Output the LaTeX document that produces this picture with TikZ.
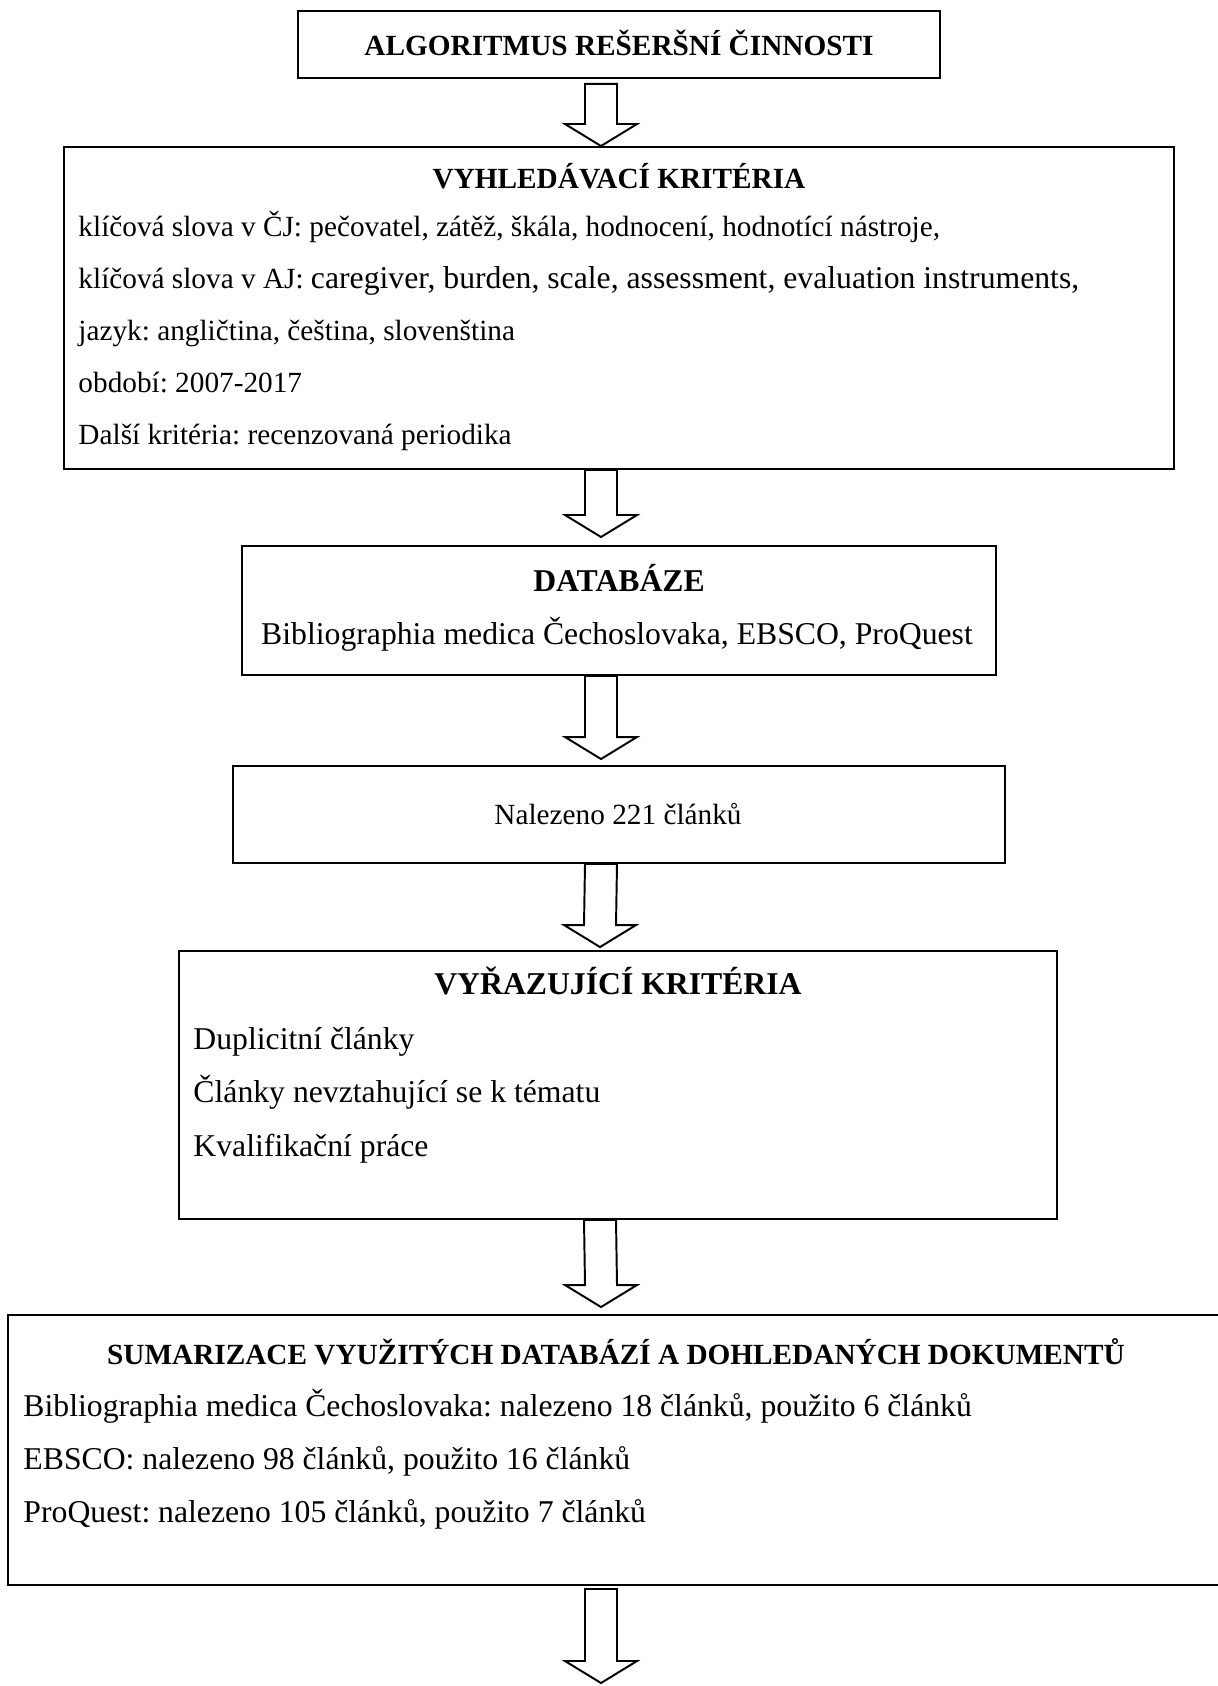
\documentclass[tikz,border=0pt]{standalone}
\usepackage{fontspec}
\setmainfont{Liberation Serif}
\usetikzlibrary{calc}
\frenchspacing

\newcommand{\px}{0.41pt}
% hollow block arrow: from, to, gap at top, gap at tip
\newcommand{\blockarrow}[4]{%
	\draw[blockarr] ($(#1)+(-34,#3)$) -- ($(#2)+(-34,-22-#4)$) -- ($(#2)+(-54,-22-#4)$) -- ($(#2)+(-18,-#4)$) -- ($(#2)+(18,-22-#4)$) -- ($(#2)+(-2,-22-#4)$) -- ($(#1)+(-2,#3)$) -- cycle;}

\begin{document}
\begin{tikzpicture}[x=\px,y=-\px,
	flowbox/.style={draw,line width=0.8pt,inner sep=0pt},
	blockarr/.style={draw,line width=0.8pt,fill=white,line join=miter},
	boxtitle/.style={inner sep=0pt,yshift=-1.3pt,text height=0.7em,text depth=0pt,font=\fontsize{12}{14}\selectfont\bfseries},
	entry/.style={anchor=west,inner sep=0pt,yshift=-1.3pt,text height=0.75em,text depth=0.25em,font=\fontsize{13}{15}\selectfont},
	]
	\useasboundingbox (0,0) rectangle (1217,1686);
	
	\node[flowbox,minimum width=642*\px,minimum height=67*\px] (title) at (619,44.5) {};
	\node[boxtitle] (titletext) at (619,44) {ALGORITMUS REŠERŠNÍ ČINNOSTI};
	
	\node[flowbox,minimum width=1110*\px,minimum height=322*\px] (crit) at (619,308) {};
	\node[boxtitle] (crittitle) at (619,177) {VYHLEDÁVACÍ KRITÉRIA};
	\node[entry,font=\fontsize{12}{14}\selectfont] (kwcz) at (78,227) {klíčová slova v ČJ: pečovatel, zátěž, škála, hodnocení, hodnotící nástroje,};
	\node[entry,font=\fontsize{12}{14}\selectfont] (kwen) at (78,279) {klíčová slova v AJ: {\fontsize{13}{15}\selectfont caregiver, burden, scale, assessment, evaluation instruments,}};
	\node[entry,font=\fontsize{12}{14}\selectfont] (lang) at (78,331) {jazyk: angličtina, čeština, slovenština};
	\node[entry,font=\fontsize{12}{14}\selectfont] (period) at (78,383) {období: 2007-2017};
	\node[entry,font=\fontsize{12}{14}\selectfont] (other) at (78,435) {Další kritéria: recenzovaná periodika};
	
	\node[flowbox,minimum width=754*\px,minimum height=129*\px] (db) at (619,610.5) {};
	\node[boxtitle,font=\fontsize{13}{15}\selectfont\bfseries] (dbtitle) at (619,580) {DATABÁZE};
	\node[entry,anchor=center] (dblist) at (617,635) {Bibliographia medica Čechoslovaka, EBSCO, ProQuest};
	
	\node[flowbox,minimum width=772*\px,minimum height=97*\px] (found) at (619,814.5) {};
	\node[entry,anchor=center,font=\fontsize{12}{14}\selectfont] (foundtext) at (618,815) {Nalezeno 221 článků};
	
	\node[flowbox,minimum width=878*\px,minimum height=268*\px] (excl) at (618,1085) {};
	\node[boxtitle,font=\fontsize{13}{15}\selectfont\bfseries] (excltitle) at (618,983) {VYŘAZUJÍCÍ KRITÉRIA};
	\node[entry] (dup) at (193,1040) {Duplicitní články};
	\node[entry] (offtopic) at (193,1093) {Články nevztahující se k tématu};
	\node[entry] (theses) at (193,1147) {Kvalifikační práce};
	
	\node[flowbox,minimum width=1222*\px,minimum height=270*\px] (summ) at (619,1450) {};
	\node[boxtitle] (summtitle) at (616,1353) {SUMARIZACE VYUŽITÝCH DATABÁZÍ A DOHLEDANÝCH DOKUMENTŮ};
	\node[entry] (bmc) at (23,1407) {Bibliographia medica Čechoslovaka: nalezeno 18 článků, použito 6 článků};
	\node[entry] (ebsco) at (23,1460) {EBSCO: nalezeno 98 článků, použito 16 článků};
	\node[entry] (proquest) at (23,1513) {ProQuest: nalezeno 105 článků, použito 7 článků};
	
	\coordinate (end) at (619,1683);
	
	\blockarrow{title.south}{crit.north}{5}{0}
	\blockarrow{crit.south}{db.north}{0}{8}
	\blockarrow{db.south}{found.north}{0}{6}
	\blockarrow{found.south}{excl.north}{0}{3}
	\blockarrow{excl.south}{summ.north}{0}{7}
	\blockarrow{summ.south}{end}{3}{0}
\end{tikzpicture}
\end{document}
